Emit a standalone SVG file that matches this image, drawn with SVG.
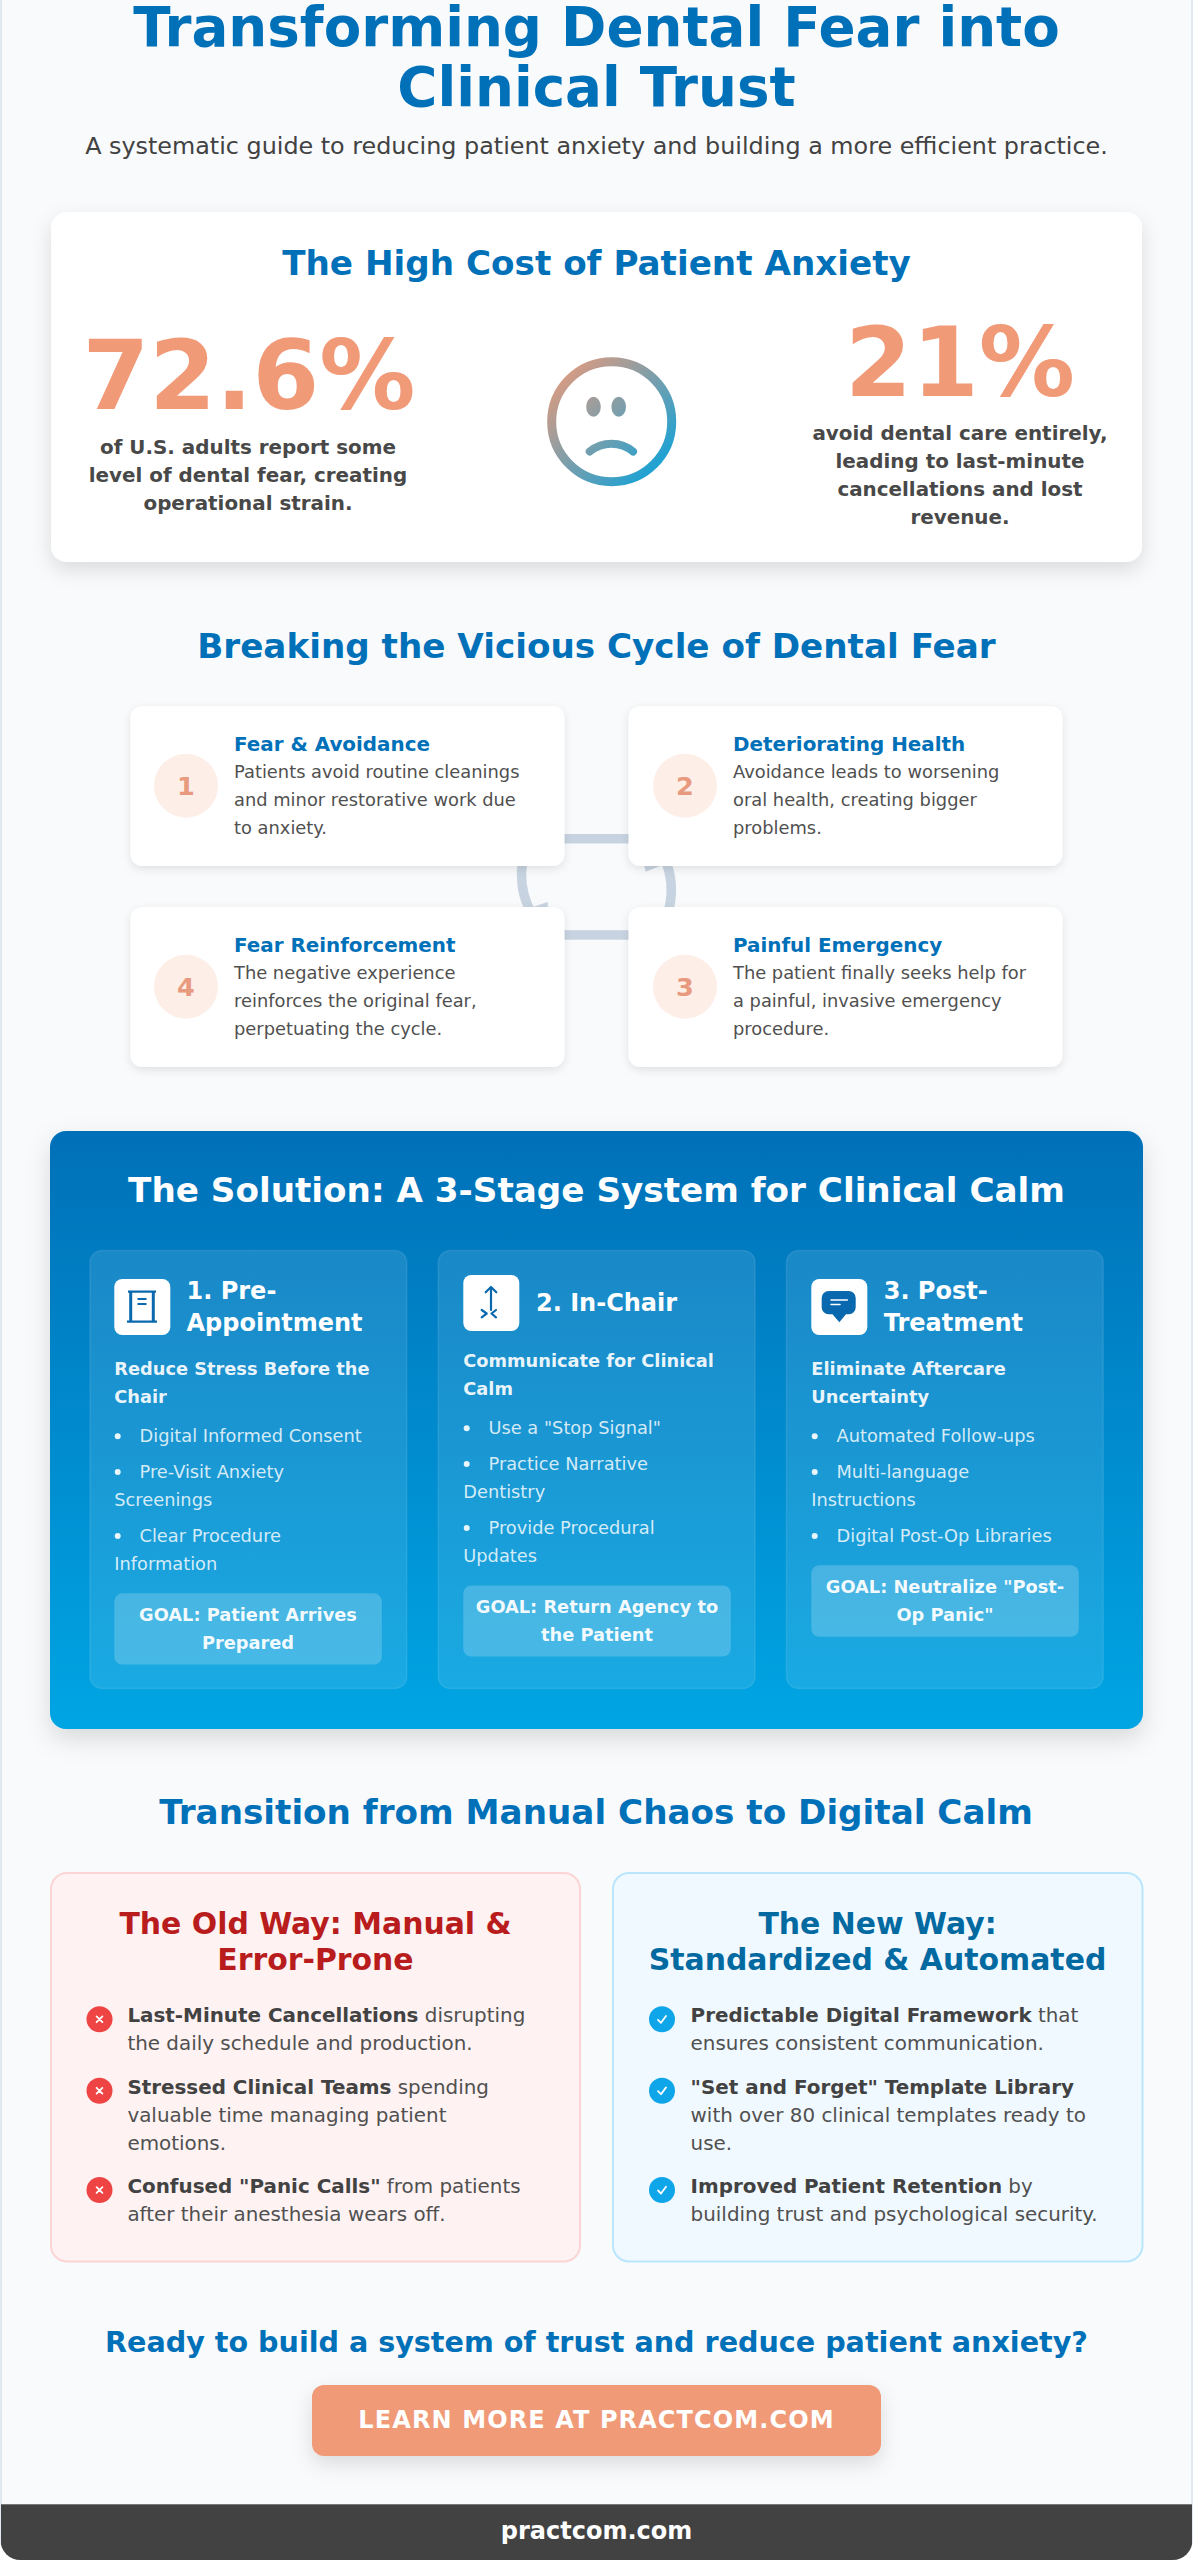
<svg xmlns="http://www.w3.org/2000/svg" width="1193" height="2560" viewBox="0 0 1193 2560">
<defs>
<style>
text{font-family:"DejaVu Sans",Verdana,sans-serif;fill:#424242}
.b{font-weight:700}
.c{text-anchor:middle}
.h1{font-size:54.7px;font-weight:700;fill:#0070b8;text-anchor:middle}
.sub{font-size:23.85px;fill:#424242;text-anchor:middle}
.h2{font-size:34.2px;font-weight:700;fill:#0070b8;text-anchor:middle}
.num{font-size:96px;font-weight:700;fill:#f09a78;text-anchor:middle}
.st{font-size:19.9px;font-weight:700;fill:#484848;text-anchor:middle}
.card{fill:#fff;filter:url(#sh1)}
.cn{fill:#fdeee8}
.cnt{font-size:25.6px;font-weight:700;fill:#e89a7e;text-anchor:middle}
.ct{font-size:19.9px;font-weight:700;fill:#0070b8}
.cb{font-size:17.85px;fill:#505050}
.stage{fill:#fff;fill-opacity:.1;stroke:#fff;stroke-opacity:.1;stroke-width:1.5}
.ib{fill:#fff}
.sh{font-size:24px;font-weight:700;fill:#fff}
.ss{font-size:17.8px;font-weight:700;fill:#fff;fill-opacity:.92}
.li{font-size:17.8px;fill:#fff;fill-opacity:.82}
.dot{fill:#fff;fill-opacity:.9}
.goal{fill:#fff;fill-opacity:.2}
.gt{font-size:17.8px;font-weight:700;fill:#fff;fill-opacity:.95;text-anchor:middle}
.ic{fill:none;stroke:#0a69ae;stroke-width:2.2;stroke-linecap:round;stroke-linejoin:round}
.cmp{font-size:29.9px;font-weight:700;text-anchor:middle}
.it{font-size:19.9px;fill:#505050}
.it .b{fill:#424242}
.mk{fill:none;stroke:#fff;stroke-width:1.8;stroke-linecap:round;stroke-linejoin:round}
.arc{fill:none;stroke:#c7d3e0;stroke-width:9.5}
.arh{fill:#c7d3e0}
</style>
<linearGradient id="sol" x1="0" y1="0" x2="0" y2="1"><stop offset="0" stop-color="#0070b8"/><stop offset="1" stop-color="#00a5e3"/></linearGradient>
<linearGradient id="face" gradientUnits="userSpaceOnUse" x1="551.7" y1="361.7" x2="671.7" y2="481.7"><stop offset="0" stop-color="#f09a78"/><stop offset="1" stop-color="#00a3e0"/></linearGradient>
<filter id="sh1" x="-10%" y="-15%" width="120%" height="130%"><feDropShadow dx="0" dy="3" stdDeviation="4" flood-color="#000" flood-opacity=".1"/></filter>
<filter id="sh2" x="-10%" y="-10%" width="120%" height="125%"><feDropShadow dx="0" dy="10" stdDeviation="12" flood-color="#000" flood-opacity=".13"/></filter>
<filter id="sh3" x="-10%" y="-20%" width="120%" height="160%"><feDropShadow dx="0" dy="8" stdDeviation="10" flood-color="#000" flood-opacity=".12"/></filter>
<clipPath id="page"><rect x="0.5" y="-50" width="1192" height="2610" rx="20"/></clipPath>
</defs>
<rect width="1193" height="2560" fill="#fff"/>
<rect id="page-bg" x="1" y="-50" width="1191" height="2609.5" rx="20" fill="#f8fafc" stroke="#e2e8f0" stroke-width="2"/>

<g id="header">
<text class="h1" x="596.5" y="46">Transforming Dental Fear into</text>
<text class="h1" x="596.5" y="105.8">Clinical Trust</text>
<text class="sub" x="596.5" y="154">A systematic guide to reducing patient anxiety and building a more efficient practice.</text>
</g>

<g id="cost-card">
<rect x="51" y="212" width="1091" height="350" rx="16" fill="#fff" filter="url(#sh3)"/>
<text class="h2" x="596.5" y="274.5">The High Cost of Patient Anxiety</text>
<text class="num" x="249" y="409">72.6%</text>
<text class="st" x="248" y="453.5">of U.S. adults report some</text>
<text class="st" x="248" y="481.6">level of dental fear, creating</text>
<text class="st" x="248" y="509.8">operational strain.</text>
<text class="num" x="960" y="396">21%</text>
<text class="st" x="960" y="439.5">avoid dental care entirely,</text>
<text class="st" x="960" y="467.6">leading to last-minute</text>
<text class="st" x="960" y="495.8">cancellations and lost</text>
<text class="st" x="960" y="524">revenue.</text>
<g id="sad-face">
<circle cx="611.7" cy="421.7" r="60" fill="none" stroke="url(#face)" stroke-width="9"/>
<ellipse cx="593.5" cy="406.7" rx="7.3" ry="10" fill="url(#face)"/>
<ellipse cx="618.7" cy="406.7" rx="7.3" ry="10" fill="url(#face)"/>
<path d="M589.7 451.5C602 441 621 441 633 451.5" fill="none" stroke="url(#face)" stroke-width="8" stroke-linecap="round"/>
</g>
</g>

<text class="h2" x="596.5" y="657.5">Breaking the Vicious Cycle of Dental Fear</text>

<g id="connectors">
<rect class="arh" x="540" y="834" width="110" height="9.5"/>
<rect class="arh" x="540" y="930.2" width="110" height="9.5"/>
<path class="arc" d="M530 840A76.5 76.5 0 0 0 540 925"/>
<path class="arc" d="M660 850A76 76 0 0 1 655 937"/>
<polygon class="arh" points="533,907 547.7,902 547.7,912"/>
<polygon class="arh" points="644.3,866 660,866 645.7,871.7"/>
</g>

<g id="cycle-1">
<rect class="card" x="130.5" y="706" width="434" height="160" rx="12"/>
<circle class="cn" cx="186" cy="785.7" r="32"/>
<text class="cnt" x="186" y="795">1</text>
<text class="ct" x="234" y="751">Fear &amp; Avoidance</text>
<text class="cb" x="234" y="778">Patients avoid routine cleanings</text>
<text class="cb" x="234" y="806">and minor restorative work due</text>
<text class="cb" x="234" y="834">to anxiety.</text>
</g>
<g id="cycle-2">
<rect class="card" x="628.5" y="706" width="434" height="160" rx="12"/>
<circle class="cn" cx="685" cy="785.7" r="32"/>
<text class="cnt" x="685" y="795">2</text>
<text class="ct" x="733" y="751">Deteriorating Health</text>
<text class="cb" x="733" y="778">Avoidance leads to worsening</text>
<text class="cb" x="733" y="806">oral health, creating bigger</text>
<text class="cb" x="733" y="834">problems.</text>
</g>
<g id="cycle-4">
<rect class="card" x="130.5" y="907" width="434" height="160" rx="12"/>
<circle class="cn" cx="186" cy="986.7" r="32"/>
<text class="cnt" x="186" y="996">4</text>
<text class="ct" x="234" y="952">Fear Reinforcement</text>
<text class="cb" x="234" y="979">The negative experience</text>
<text class="cb" x="234" y="1007">reinforces the original fear,</text>
<text class="cb" x="234" y="1035">perpetuating the cycle.</text>
</g>
<g id="cycle-3">
<rect class="card" x="628.5" y="907" width="434" height="160" rx="12"/>
<circle class="cn" cx="685" cy="986.7" r="32"/>
<text class="cnt" x="685" y="996">3</text>
<text class="ct" x="733" y="952">Painful Emergency</text>
<text class="cb" x="733" y="979">The patient finally seeks help for</text>
<text class="cb" x="733" y="1007">a painful, invasive emergency</text>
<text class="cb" x="733" y="1035">procedure.</text>
</g>

<g id="solution">
<rect x="50" y="1131" width="1093" height="598" rx="16" fill="url(#sol)" filter="url(#sh2)"/>
<text class="h2" style="fill:#fff" x="596.5" y="1202">The Solution: A 3-Stage System for Clinical Calm</text>

<g id="stage-1">
<rect class="stage" x="90" y="1250.5" width="316.7" height="438" rx="12"/>
<rect class="ib" x="114.3" y="1279" width="56" height="56" rx="8"/>
<path class="ic" style="stroke-linecap:butt" d="M128 1291.7H156M127 1321.7H157"/>
<path class="ic" style="stroke-width:3;stroke-linecap:butt" d="M130.7 1292V1321M153.3 1292V1321"/>
<path class="ic" style="stroke-linecap:butt" d="M137.5 1299H146.5M137.5 1304H146.5"/>
<text class="sh" x="186.5" y="1298.7">1. Pre-</text>
<text class="sh" x="186.5" y="1330.7">Appointment</text>
<text class="ss" x="114.3" y="1375">Reduce Stress Before the</text>
<text class="ss" x="114.3" y="1402.8">Chair</text>
<circle class="dot" cx="117.7" cy="1436.3" r="3"/>
<text class="li" x="139.5" y="1442.3">Digital Informed Consent</text>
<circle class="dot" cx="117.7" cy="1472" r="3"/>
<text class="li" x="139.5" y="1478">Pre-Visit Anxiety</text>
<text class="li" x="114.3" y="1506">Screenings</text>
<circle class="dot" cx="117.7" cy="1536" r="3"/>
<text class="li" x="139.5" y="1542">Clear Procedure</text>
<text class="li" x="114.3" y="1570">Information</text>
<rect class="goal" x="114.3" y="1593.3" width="267.5" height="71.2" rx="8"/>
<text class="gt" x="248" y="1621">GOAL: Patient Arrives</text>
<text class="gt" x="248" y="1649">Prepared</text>
</g>

<g id="stage-2">
<rect class="stage" x="438.3" y="1250.5" width="316.7" height="438" rx="12"/>
<rect class="ib" x="463.3" y="1275" width="56" height="56" rx="8"/>
<path class="ic" d="M491 1287V1310M485.7 1292.3L491 1287L496.3 1292.3M481.7 1310L486.7 1313.5L481.7 1317.3M496 1310L491.5 1313.5L496 1317.3"/>
<text class="sh" x="536" y="1311">2. In-Chair</text>
<text class="ss" x="463.3" y="1367">Communicate for Clinical</text>
<text class="ss" x="463.3" y="1395">Calm</text>
<circle class="dot" cx="466.7" cy="1428.3" r="3"/>
<text class="li" x="488.5" y="1434.3">Use a "Stop Signal"</text>
<circle class="dot" cx="466.7" cy="1464" r="3"/>
<text class="li" x="488.5" y="1470.3">Practice Narrative</text>
<text class="li" x="463.3" y="1498.4">Dentistry</text>
<circle class="dot" cx="466.7" cy="1528" r="3"/>
<text class="li" x="488.5" y="1534">Provide Procedural</text>
<text class="li" x="463.3" y="1562">Updates</text>
<rect class="goal" x="463.3" y="1585.4" width="267.5" height="71.2" rx="8"/>
<text class="gt" x="597" y="1613">GOAL: Return Agency to</text>
<text class="gt" x="597" y="1641">the Patient</text>
</g>

<g id="stage-3">
<rect class="stage" x="786.5" y="1250.5" width="316.7" height="438" rx="12"/>
<rect class="ib" x="811.3" y="1279" width="56" height="56" rx="8"/>
<path d="M828.7 1291H848.7a7 7 0 0 1 7 7V1307.3a7 7 0 0 1 -7 7H846L839.3 1322.3L832.5 1314.3H828.7a7 7 0 0 1 -7 -7V1298a7 7 0 0 1 7 -7Z" fill="#0a69ae"/>
<path d="M831 1300H847.3M831 1304.5H840" fill="none" stroke="#fff" stroke-width="1.6" stroke-linecap="round"/>
<text class="sh" x="883.7" y="1298.7">3. Post-</text>
<text class="sh" x="883.7" y="1330.7">Treatment</text>
<text class="ss" x="811.3" y="1375">Eliminate Aftercare</text>
<text class="ss" x="811.3" y="1402.8">Uncertainty</text>
<circle class="dot" cx="814.7" cy="1436.3" r="3"/>
<text class="li" x="836.5" y="1442.3">Automated Follow-ups</text>
<circle class="dot" cx="814.7" cy="1472" r="3"/>
<text class="li" x="836.5" y="1478">Multi-language</text>
<text class="li" x="811.3" y="1506">Instructions</text>
<circle class="dot" cx="814.7" cy="1536" r="3"/>
<text class="li" x="836.5" y="1542">Digital Post-Op Libraries</text>
<rect class="goal" x="811.3" y="1565.2" width="267.5" height="71.6" rx="8"/>
<text class="gt" x="945" y="1593">GOAL: Neutralize "Post-</text>
<text class="gt" x="945" y="1621">Op Panic"</text>
</g>
</g>

<text class="h2" x="596" y="1824.3">Transition from Manual Chaos to Digital Calm</text>

<g id="old-way">
<rect x="51" y="1873" width="529" height="388.5" rx="16" fill="#fef2f2" stroke="#fbd5d5" stroke-width="2"/>
<text class="cmp" style="fill:#b91c1c" x="315.5" y="1934">The Old Way: Manual &amp;</text>
<text class="cmp" style="fill:#b91c1c" x="315.5" y="1970">Error-Prone</text>
<circle cx="99.5" cy="2019.3" r="13" fill="#ef4444"/><path class="mk" d="M96.6 2016.4L102.4 2022.2M102.4 2016.4L96.6 2022.2"/>
<text class="it" x="127.4" y="2022.3"><tspan class="b">Last-Minute Cancellations</tspan> disrupting</text>
<text class="it" x="127.4" y="2050.3">the daily schedule and production.</text>
<circle cx="99.5" cy="2090.7" r="13" fill="#ef4444"/><path class="mk" d="M96.6 2087.8L102.4 2093.6M102.4 2087.8L96.6 2093.6"/>
<text class="it" x="127.4" y="2093.7"><tspan class="b">Stressed Clinical Teams</tspan> spending</text>
<text class="it" x="127.4" y="2121.7">valuable time managing patient</text>
<text class="it" x="127.4" y="2149.7">emotions.</text>
<circle cx="99.5" cy="2190" r="13" fill="#ef4444"/><path class="mk" d="M96.6 2187.1L102.4 2192.9M102.4 2187.1L96.6 2192.9"/>
<text class="it" x="127.4" y="2193"><tspan class="b">Confused "Panic Calls"</tspan> from patients</text>
<text class="it" x="127.4" y="2221">after their anesthesia wears off.</text>
</g>

<g id="new-way">
<rect x="613" y="1873" width="529.5" height="388.5" rx="16" fill="#f0f9ff" stroke="#bae6fd" stroke-width="2"/>
<text class="cmp" style="fill:#0369a1" x="877.5" y="1934">The New Way:</text>
<text class="cmp" style="fill:#0369a1" x="877.5" y="1970">Standardized &amp; Automated</text>
<circle cx="662" cy="2019.3" r="13" fill="#0ea5e9"/><path class="mk" d="M658 2019.8L661 2022.8L666 2016"/>
<text class="it" x="690.6" y="2022.3"><tspan class="b">Predictable Digital Framework</tspan> that</text>
<text class="it" x="690.6" y="2050.3">ensures consistent communication.</text>
<circle cx="662" cy="2090.7" r="13" fill="#0ea5e9"/><path class="mk" d="M658 2091.2L661 2094.2L666 2087.4"/>
<text class="it" x="690.6" y="2093.7"><tspan class="b">"Set and Forget" Template Library</tspan></text>
<text class="it" x="690.6" y="2121.7">with over 80 clinical templates ready to</text>
<text class="it" x="690.6" y="2149.7">use.</text>
<circle cx="662" cy="2190" r="13" fill="#0ea5e9"/><path class="mk" d="M658 2190.5L661 2193.5L666 2186.7"/>
<text class="it" x="690.6" y="2193"><tspan class="b">Improved Patient Retention</tspan> by</text>
<text class="it" x="690.6" y="2221">building trust and psychological security.</text>
</g>

<g id="cta">
<text class="cmp" style="fill:#0070b8;font-size:28.6px" x="596.5" y="2352">Ready to build a system of trust and reduce patient anxiety?</text>
<rect x="312" y="2385" width="569" height="71" rx="12" fill="#f09a78" filter="url(#sh3)"/>
<text class="c b" style="fill:#fff;font-size:24px;letter-spacing:1.1px" x="596.5" y="2428">LEARN MORE AT PRACTCOM.COM</text>
</g>

<g id="footer" clip-path="url(#page)">
<rect x="1" y="2504" width="1191" height="56" fill="#424242"/>
<rect x="1" y="2504" width="1191" height="1" fill="#777"/>
<text class="c b" style="fill:#fff;font-size:24px" x="596.5" y="2539">practcom.com</text>
</g>
</svg>
